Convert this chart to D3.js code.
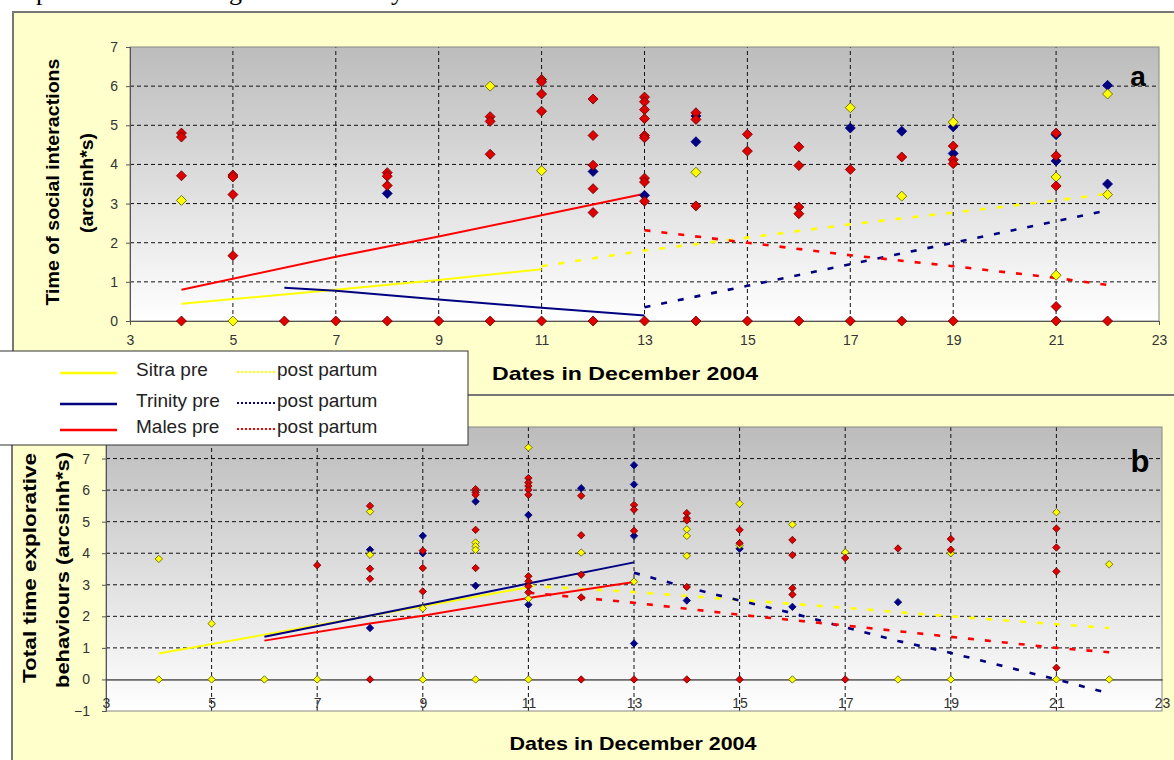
<!DOCTYPE html>
<meta charset="utf-8">
<style>
  body { margin: 0; background: white; }
  svg { display: block; font-family: "Liberation Sans", Arial, sans-serif; }
  .tick text { font-size: 14px; fill: #333; }
  .grid { stroke: #111; stroke-width: 1; stroke-dasharray: 4,3; }
  .frame { fill: #ffffcc; stroke: #777; stroke-width: 2; }
</style>
<body>
<script src="https://d3js.org/d3.v7.min.js"></script>
<script>
// ---- data: [day, value] ----
var dayTicks = [3, 5, 7, 9, 11, 13, 15, 17, 19, 21, 23];

// panel a: time of social interactions
var sitraA = [[4,3.08],[5,0],[10,6.0],[11,3.84],[14,3.80],[17,5.45],[18,3.19],[19,5.08],[21,3.68],[21,1.17],[22,5.80],[22,3.23]];
var trinityA = [[8,3.26],[12,3.82],[13,3.21],[14,5.24],[14,4.58],[17,4.93],[18,4.85],[19,4.96],[19,4.28],[21,4.76],[21,4.09],[22,6.02],[22,3.50]];
var malesA = [[4,4.80],[4,4.70],[4,3.71],[4,0],[5,3.73],[5,3.68],[5,3.23],[5,1.67],[6,0],[7,0],[8,3.79],[8,3.70],[8,3.46],[8,0],[9,0],
  [10,5.22],[10,5.10],[10,4.26],[10,0],[11,6.17],[11,6.11],[11,5.80],[11,5.36],[11,0],[12,5.67],[12,4.74],[12,3.98],[12,3.38],[12,2.77],[12,0],
  [13,5.72],[13,5.60],[13,5.40],[13,5.17],[13,4.74],[13,4.68],[13,3.65],[13,3.55],[13,3.06],[13,0],[14,5.32],[14,5.15],[14,2.94],[14,0],
  [15,4.77],[15,4.34],[15,0],[16,4.45],[16,3.97],[16,2.91],[16,2.74],[16,0],[17,3.87],[17,0],[18,4.19],[18,0],
  [19,4.47],[19,4.12],[19,4.02],[19,0],[21,4.80],[21,4.22],[21,3.45],[21,0.37],[21,0],[22,0]];

var sitraPreA = [[4,0.44],[7,0.80],[9,1.05],[11,1.32]];
var sitraPostA = [[11,1.40],[13,1.80],[15,2.13],[17,2.47],[19,2.77],[21,3.08],[22,3.25]];
var trinityPreA = [[6,0.85],[7,0.77],[9,0.55],[11,0.34],[13,0.14]];
var trinityPostA = [[13,0.35],[15,0.90],[17,1.45],[19,2.0],[21,2.55],[22,2.83]];
var malesPreA = [[4,0.80],[5,1.08],[7,1.64],[9,2.16],[11,2.70],[13,3.25]];
var malesPostA = [[13,2.32],[15,2.0],[17,1.68],[19,1.40],[21,1.10],[22,0.92]];

// panel b: total time explorative behaviours
var sitraB = [[4,3.82],[4,0],[5,1.77],[5,0],[6,0],[7,0],[8,5.32],[8,3.95],[9,2.25],[9,0],[10,4.34],[10,4.22],[10,4.11],[10,0],
  [11,7.35],[11,2.56],[11,0],[12,4.02],[13,3.10],[14,4.76],[14,4.55],[14,3.92],[15,5.57],[15,4.25],[16,4.91],[16,0],
  [17,4.03],[18,0],[19,4.0],[19,0],[21,5.30],[21,0],[22,3.65],[22,0]];
var trinityB = [[8,4.11],[8,1.63],[9,4.55],[9,4.0],[10,5.64],[10,2.97],[11,5.21],[11,2.37],[12,6.06],[13,6.79],[13,6.18],[13,4.55],[13,1.14],
  [14,2.50],[15,4.14],[16,2.30],[18,2.45]];
var malesB = [[7,3.62],[8,5.50],[8,3.51],[8,3.19],[8,0],[9,4.08],[9,3.53],[9,2.79],[10,6.03],[10,5.93],[10,5.85],[10,4.74],[10,3.53],
  [11,6.38],[11,6.24],[11,6.13],[11,6.01],[11,5.85],[11,3.27],[11,3.11],[11,2.95],[11,2.76],[12,5.82],[12,4.57],[12,3.32],[12,2.60],[12,0],
  [13,5.53],[13,5.38],[13,4.71],[13,0],[14,5.27],[14,5.11],[14,5.04],[14,2.93],[14,0],[15,4.74],[15,4.32],[15,0],
  [16,4.42],[16,3.94],[16,2.89],[16,2.69],[17,3.85],[17,0],[18,4.15],[19,4.45],[19,4.11],[21,4.78],[21,4.18],[21,3.42],[21,0.37]];

var sitraPreB = [[4,0.82],[6,1.42],[8,2.02],[11,2.92]];
var sitraPostB = [[11,2.97],[13,2.77],[15,2.52],[17,2.27],[19,2.0],[21,1.75],[22,1.63]];
var trinityPreB = [[6,1.35],[9,2.36],[11,3.04],[13,3.71]];
var trinityPostB = [[13,3.38],[14,2.92],[15,2.50],[16,2.10],[17,1.65],[18,1.22],[19,0.84],[20,0.42],[21,0.0],[22,-0.44]];
var malesPreB = [[6,1.23],[8,1.77],[9,2.02],[11,2.58],[13,3.09]];
var malesPostB = [[11,2.75],[13,2.43],[15,2.05],[17,1.71],[19,1.35],[21,1.0],[22,0.86]];

var legendRows = ["Sitra pre", "Trinity pre", "Males pre"];

var yellow = "#ffff00", navy = "#000080", red = "#ff0000";

var svg = d3.select("body").append("svg")
    .attr("width", 1174)
    .attr("height", 760);

var grad = svg.append("defs").append("linearGradient")
    .attr("id", "bg").attr("x1", 0).attr("y1", 0).attr("x2", 0).attr("y2", 1);
grad.append("stop").attr("offset", "0%").attr("stop-color", "#bcbcbc");
grad.append("stop").attr("offset", "100%").attr("stop-color", "#ffffff");

// cut-off line of the document text above the chart (only descenders show)
svg.selectAll(".frag").data([["p", 36], ["g", 229], ["y", 391]]).enter().append("text")
    .attr("x", function(d) { return d[1]; }).attr("y", 0)
    .style("font-family", "'Liberation Serif', serif").style("font-size", "26px")
    .text(function(d) { return d[0]; });

svg.append("rect").attr("class", "frame").attr("x", 13).attr("y", 12).attr("width", 1180).attr("height", 384);
svg.append("rect").attr("class", "frame").attr("x", 12).attr("y", 395).attr("width", 1180).attr("height", 380);

// square diamond of half-width r
function diamond(r) { return "M0," + (-r) + "L" + r + ",0L0," + r + "L" + (-r) + ",0Z"; }

function panel(opt) {
  var x = d3.scaleLinear().domain([3, 23]).range(opt.xr);
  var y = d3.scaleLinear().domain(opt.yd).range(opt.yr);
  var g = svg.append("g");

  g.append("rect")
      .attr("x", opt.xr[0]).attr("y", opt.yr[1])
      .attr("width", opt.xr[1] - opt.xr[0]).attr("height", opt.yr[0] - opt.yr[1])
      .attr("fill", "url(#bg)");

  g.selectAll(".hg").data(opt.hgrid).enter().append("line").attr("class", "grid")
      .attr("x1", opt.xr[0]).attr("x2", opt.xr[1])
      .attr("y1", function(d) { return y(d); }).attr("y2", function(d) { return y(d); });
  g.selectAll(".vg").data(dayTicks.slice(1, -1)).enter().append("line").attr("class", "grid")
      .attr("y1", opt.yr[0]).attr("y2", opt.yr[1])
      .attr("x1", function(d) { return x(d); }).attr("x2", function(d) { return x(d); });

  g.append("rect")
      .attr("x", opt.xr[0]).attr("y", opt.yr[1])
      .attr("width", opt.xr[1] - opt.xr[0]).attr("height", opt.yr[0] - opt.yr[1])
      .attr("fill", "none").attr("stroke", "#888");

  var ya = g.append("g").attr("transform", "translate(" + opt.xr[0] + ",0)")
      .call(d3.axisLeft(y).tickValues(opt.yticks).tickSize(4).tickPadding(opt.ypad).tickFormat(d3.format("d")));
  ya.select(".domain").attr("stroke", "#555");
  ya.selectAll("line").attr("stroke", "#555");

  var xa = g.append("g").attr("transform", "translate(0," + y(0) + ")")
      .call(d3.axisBottom(x).tickValues(dayTicks).tickSize(opt.xtick).tickPadding(opt.xpad).tickFormat(d3.format("d")));
  xa.select(".domain").attr("stroke", opt.zeroColor);
  xa.selectAll("line").attr("stroke", "#555");

  var line = d3.line().x(function(d) { return x(d[0]); }).y(function(d) { return y(d[1]); });
  var trends = [
    [opt.trends[0], yellow, false], [opt.trends[1], yellow, true],
    [opt.trends[2], navy, false], [opt.trends[3], navy, true],
    [opt.trends[4], red, false], [opt.trends[5], red, true]
  ];
  g.selectAll(".trend").data(trends).enter().append("path")
      .attr("d", function(d) { return line(d[0]); })
      .attr("fill", "none")
      .attr("stroke", function(d) { return d[1]; })
      .attr("stroke-width", function(d) { return d[2] ? 2.6 : 2; })
      .attr("stroke-dasharray", function(d) { return d[2] ? "6,11" : null; });

  var series = [[opt.pts[1], navy, navy], [opt.pts[0], yellow, "#555500"], [opt.pts[2], "#e00000", "#600000"]];
  series.forEach(function(s) {
    g.selectAll(null).data(s[0]).enter().append("path")
        .attr("d", diamond(opt.msize))
        .attr("transform", function(d) { return "translate(" + x(d[0]) + "," + y(d[1]) + ")"; })
        .attr("fill", s[1]).attr("stroke", s[2]).attr("stroke-width", 0.8);
  });

  g.append("text").attr("x", opt.letter[0]).attr("y", opt.letter[1])
      .attr("text-anchor", "middle").style("font-weight", "bold").style("font-size", opt.letter[3] + "px")
      .text(opt.letter[2]);

  g.append("text").attr("x", opt.xtitle[0]).attr("y", opt.xtitle[1])
      .attr("text-anchor", "middle").style("font-weight", "bold").style("font-size", "19px")
      .attr("textLength", opt.xtitle[2]).attr("lengthAdjust", "spacingAndGlyphs")
      .text("Dates in December 2004");

  opt.ytitle.forEach(function(t) {
    g.append("text").attr("transform", "translate(" + t[1] + "," + t[2] + ") rotate(-90)")
        .attr("text-anchor", "middle").style("font-weight", "bold").style("font-size", "19px")
        .attr("textLength", t[3]).attr("lengthAdjust", "spacingAndGlyphs")
        .text(t[0]);
  });
  return g;
}

panel({
  xr: [130, 1159], yd: [0, 7], yr: [321, 47],
  hgrid: [1, 2, 3, 4, 5, 6], yticks: [0, 1, 2, 3, 4, 5, 6, 7], ypad: 8,
  xtick: 4, xpad: 10, zeroColor: "#555",
  pts: [sitraA, trinityA, malesA], msize: 5,
  trends: [sitraPreA, sitraPostA, trinityPreA, trinityPostA, malesPreA, malesPostA],
  letter: [1138, 86, "a", 28],
  xtitle: [625, 380, 266],
  ytitle: [["Time of social interactions", 59, 182, 247], ["(arcsinh*s)", 93, 183, 100]]
});

panel({
  xr: [106, 1162], yd: [-1, 8], yr: [711, 427],
  hgrid: [1, 2, 3, 4, 5, 6, 7], yticks: [-1, 0, 1, 2, 3, 4, 5, 6, 7], ypad: 12,
  xtick: 0, xpad: 19, zeroColor: "#000",
  pts: [sitraB, trinityB, malesB], msize: 3.7,
  trends: [sitraPreB, sitraPostB, trinityPreB, trinityPostB, malesPreB, malesPostB],
  letter: [1140, 472, "b", 31],
  xtitle: [633, 750, 247],
  ytitle: [["Total time explorative", 36, 568, 230], ["behaviours (arcsinh*s)", 69, 570, 236]]
});

// legend
var leg = svg.append("g");
leg.append("rect").attr("x", -2).attr("y", 351).attr("width", 470).attr("height", 94)
    .attr("fill", "white").attr("stroke", "#333");
var legColors = [yellow, navy, red];
var rowY = [373, 404, 430];
leg.selectAll(".ls").data(legendRows).enter().append("line")
    .attr("x1", 60).attr("x2", 117)
    .attr("y1", function(d, i) { return rowY[i]; }).attr("y2", function(d, i) { return rowY[i]; })
    .attr("stroke", function(d, i) { return legColors[i]; }).attr("stroke-width", 2.5);
leg.selectAll(".lt").data(legendRows).enter().append("text")
    .attr("x", 136).attr("y", function(d, i) { return rowY[i] + 3; })
    .style("font-size", "19px").attr("fill", "#222")
    .text(function(d) { return d; });
leg.selectAll(".ld").data(legendRows).enter().append("line")
    .attr("x1", 237).attr("x2", 276)
    .attr("y1", function(d, i) { return rowY[i] - 1; }).attr("y2", function(d, i) { return rowY[i] - 1; })
    .attr("stroke", function(d, i) { return legColors[i]; }).attr("stroke-width", 2)
    .attr("stroke-dasharray", "2,2");
leg.selectAll(".lp").data(legendRows).enter().append("text")
    .attr("x", 277).attr("y", function(d, i) { return rowY[i] + 3; })
    .style("font-size", "19px").attr("fill", "#222")
    .text("post partum");
</script>
</body>
